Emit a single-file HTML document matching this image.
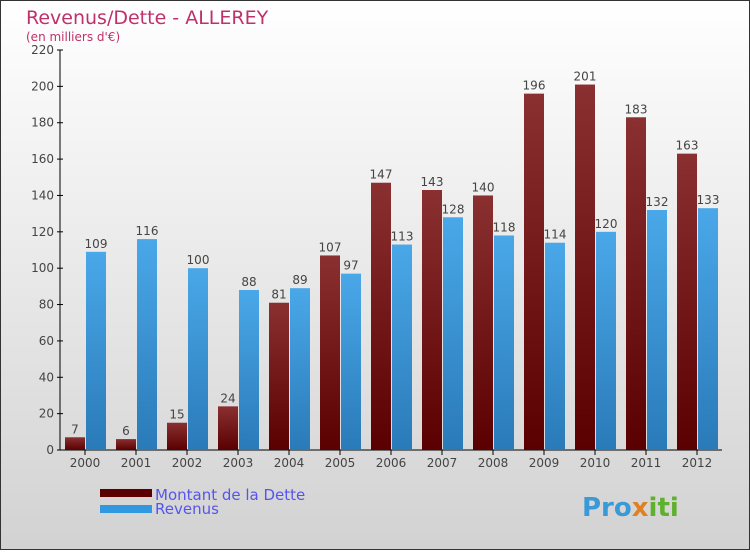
<!DOCTYPE html>
<html><head><meta charset="utf-8"><style>
body{margin:0}
svg text{font-family:"DejaVu Sans","Liberation Sans",sans-serif}
</style></head><body>
<svg width="750" height="550" xmlns="http://www.w3.org/2000/svg">
<defs>
<linearGradient id="bg" x1="0" y1="0" x2="0" y2="1"><stop offset="0" stop-color="#ffffff"/><stop offset="1" stop-color="#d2d2d2"/></linearGradient>
<linearGradient id="gd" x1="0" y1="0" x2="0" y2="1"><stop offset="0" stop-color="#8a3030"/><stop offset="1" stop-color="#5a0000"/></linearGradient>
<linearGradient id="gr" x1="0" y1="0" x2="0" y2="1"><stop offset="0" stop-color="#4aa8e8"/><stop offset="1" stop-color="#2a7ab8"/></linearGradient>
</defs>
<rect x="0.5" y="0.5" width="749" height="549" fill="url(#bg)" stroke="#333"/>
<text x="26" y="24" font-size="19" fill="#c0306a">Revenus/Dette - ALLEREY</text>
<text x="26" y="41" font-size="12" fill="#c0306a">(en milliers d'€)</text>
<g id="plot"></g>
<rect x="100" y="489" width="52" height="8" fill="#5a0000"/>
<rect x="100" y="505" width="52" height="8" fill="#2f98e0"/>
<text x="155" y="500" font-size="15" fill="#5555ee">Montant de la Dette</text>
<text x="155" y="514" font-size="15" fill="#5555ee">Revenus</text>
<text x="582" y="516" font-size="26" font-weight="bold" fill="#3a9ad8">Pro<tspan fill="#e08020">x</tspan><tspan fill="#60b030">iti</tspan></text>
</svg>
<script>
const years=["2000","2001","2002","2003","2004","2005","2006","2007","2008","2009","2010","2011","2012"];
const dette=[7,6,15,24,81,107,147,143,140,196,201,183,163];
const revenus=[109,116,100,88,89,97,113,128,118,114,120,132,133];
const yTicks=[0,20,40,60,80,100,120,140,160,180,200,220];
const g=document.getElementById('plot');
const NS='http://www.w3.org/2000/svg';
const y=v=>450-v*400/220;
const xc=i=>85+i*51;
function mk(t,a,p){const e=document.createElementNS(NS,t);for(const k in a)e.setAttribute(k,a[k]);(p||g).appendChild(e);return e;}
let ax=mk('line',{x1:60,y1:y(220),x2:60,y2:450,stroke:'#000'});

let xa=mk('line',{x1:60,y1:450,x2:722,y2:450,stroke:'#000'});

yTicks.forEach(v=>{
 mk('line',{x1:57,y1:y(v),x2:63,y2:y(v),stroke:'#000'});
 let t=mk('text',{x:54,y:y(v)+4,'font-size':12,'text-anchor':'end',fill:'#444'});t.textContent=v;
 
});
years.forEach((yr,i)=>{
 const c=xc(i);
 mk('line',{x1:c,y1:450,x2:c,y2:455,stroke:'#000'});
 let t=mk('text',{x:c,y:467,'font-size':12,'text-anchor':'middle',fill:'#444'});t.textContent=yr;
 
 let b=mk('rect',{x:c-20,y:y(dette[i]),width:20,height:450-y(dette[i]),fill:'url(#gd)'});
 
 let r=mk('rect',{x:c+1,y:y(revenus[i]),width:20,height:450-y(revenus[i]),fill:'url(#gr)'});
 
 let l1=mk('text',{x:c-10,y:y(dette[i])-4,'font-size':12,'text-anchor':'middle',fill:'#444'});l1.textContent=dette[i];
 
 let l2=mk('text',{x:c+11,y:y(revenus[i])-4,'font-size':12,'text-anchor':'middle',fill:'#444'});l2.textContent=revenus[i];
 
});
</script>
</body></html>
